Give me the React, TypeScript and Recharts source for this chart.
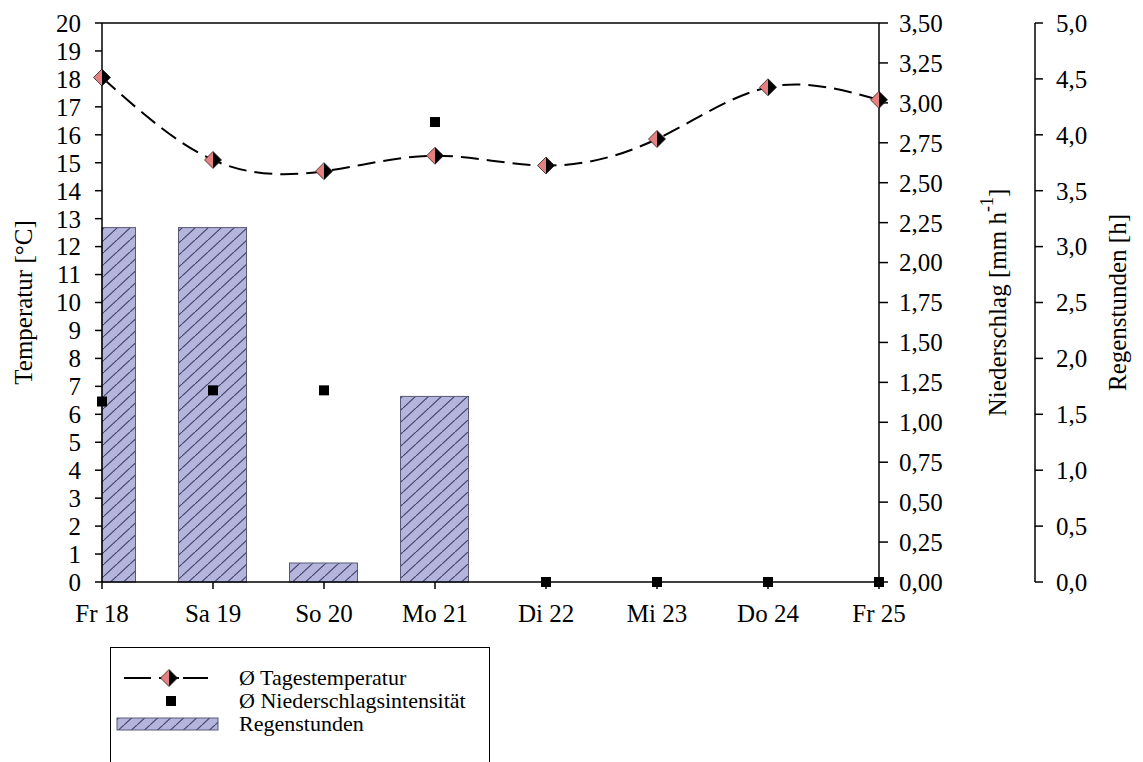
import React from "react"
import {
  ComposedChart,
  Bar,
  Line,
  Scatter,
  XAxis,
  YAxis,
  ReferenceLine,
  Legend
} from "recharts"

const days = ["Fr 18", "Sa 19", "So 20", "Mo 21", "Di 22", "Mi 23", "Do 24", "Fr 25"]
const dayTemperature = [18.05, 15.1, 14.7, 15.25, 14.9, 15.85, 17.7, 17.25]
const rainIntensity = [1.13, 1.2, 1.2, 2.88, 0, 0, 0, 0]
const rainHours = [3.17, 3.17, 0.17, 1.66, 0, 0, 0, 0]

const tempTicks = Array.from({ length: 21 }, (_, i) => i)
const rainTicks = [0, 0.25, 0.5, 0.75, 1, 1.25, 1.5, 1.75, 2, 2.25, 2.5, 2.75, 3, 3.25, 3.5]
const hourTicks = [0, 0.5, 1, 1.5, 2, 2.5, 3, 3.5, 4, 4.5, 5]
const dayTicks = days.map((_, i) => i)

const rows = days.map((day, i) => ({
  idx: i,
  day,
  temp: dayTemperature[i],
  rain: rainIntensity[i],
  hours: rainHours[i]
}))

const FONT = '"Liberation Serif", "Times New Roman", serif'
const BAR_FILL = "#b4b4dc"
const HATCH = "#45456e"
const LEFT_AXIS_W = 102 // left edge of the plot area (no left margin)
const TICK_FONT = 25

const comma = (digits: number) => (v: number) => v.toFixed(digits).replace(".", ",")

const axisLine = { stroke: "#000", strokeWidth: 1.5 }
const tickLine = { stroke: "#000", strokeWidth: 1.5 }

// tick labels drawn as plain svg text so the font size sticks
const makeTick = (format: (v: number) => string, horizontal = false) => (props: any) => {
  const { x, y, payload, textAnchor } = props
  return (
    <text
      x={x}
      y={y}
      dy={horizontal ? "0.71em" : "0.355em"}
      textAnchor={horizontal ? "middle" : textAnchor}
      fontFamily={FONT}
      fontSize={TICK_FONT}
      fill="#000"
    >
      {format(payload.value)}
    </text>
  )
}

function Diamond(props: any) {
  const { cx, cy } = props
  if (cx == null || cy == null) return null
  const r = 8.5
  return (
    <g>
      <path d={`M${cx},${cy - r}L${cx - r},${cy}L${cx},${cy + r}Z`} fill="#e58080" />
      <path d={`M${cx},${cy - r}L${cx + r},${cy}L${cx},${cy + r}Z`} fill="#000" />
      <path
        d={`M${cx},${cy - r}L${cx - r},${cy}L${cx},${cy + r}L${cx + r},${cy}Z`}
        fill="none"
        stroke="#222"
        strokeWidth={0.8}
      />
    </g>
  )
}

function Square(props: any) {
  const { cx, cy } = props
  if (cx == null || cy == null) return null
  return <rect x={cx - 5} y={cy - 5} width={10} height={10} fill="#000" />
}

// bars are centred on the day, the first one gets cut at the plot edge
function HatchedBar(props: any) {
  const { x, y, width, height } = props
  if (!height || height <= 0) return null
  const left = Math.max(x, LEFT_AXIS_W)
  const w = x + width - left
  if (w <= 0) return null
  return (
    <rect
      x={left}
      y={y}
      width={w}
      height={height}
      fill="url(#rainHatch)"
      stroke="#5a5a78"
      strokeWidth={1}
    />
  )
}

function RotatedTitle({ x, y, children }: { x: number; y: number; children: React.ReactNode }) {
  return (
    <text
      x={x}
      y={y}
      transform={`rotate(-90, ${x}, ${y})`}
      textAnchor="middle"
      dominantBaseline="central"
      fontFamily={FONT}
      fontSize={25}
      fill="#000"
    >
      {children}
    </text>
  )
}

function LegendBox() {
  const row: React.CSSProperties = {
    display: "flex",
    alignItems: "center",
    height: 23,
    lineHeight: "19px",
    fontFamily: FONT,
    fontSize: 22,
    color: "#000",
    whiteSpace: "nowrap"
  }
  const icon: React.CSSProperties = { width: 128, flex: "none", display: "block" }
  return (
    <div
      style={{
        boxSizing: "border-box",
        width: 380,
        height: 140,
        borderTop: "1.5px solid #000",
        borderLeft: "1.5px solid #000",
        borderRight: "1.5px solid #000",
        paddingTop: 18,
        background: "#fff"
      }}
    >
      <div style={row}>
        <svg style={icon} width={128} height={22}>
          <line x1={13} y1={11} x2={40} y2={11} stroke="#000" strokeWidth={2} />
          <line x1={72} y1={11} x2={97} y2={11} stroke="#000" strokeWidth={2} />
          <line x1={48} y1={11} x2={68} y2={11} stroke="#000" strokeWidth={2} />
          <Diamond cx={58} cy={11} />
        </svg>
        <span>Ø Tagestemperatur</span>
      </div>
      <div style={row}>
        <svg style={icon} width={128} height={22}>
          <Square cx={60} cy={11} />
        </svg>
        <span>Ø Niederschlagsintensität</span>
      </div>
      <div style={row}>
        <svg style={icon} width={128} height={22}>
          <rect x={6} y={5} width={101} height={12} fill="url(#rainHatch)" stroke="#5a5a78" />
        </svg>
        <span>Regenstunden</span>
      </div>
    </div>
  )
}

export default function App() {
  return (
    <div
      style={{
        position: "absolute",
        left: 0,
        top: 0,
        width: 1143,
        height: 762,
        overflow: "hidden",
        background: "#fff"
      }}
    >
      <svg width={0} height={0} style={{ position: "absolute" }}>
        <defs>
          <pattern id="rainHatch" patternUnits="userSpaceOnUse" width={13} height={12}>
            <rect width={13} height={12} fill={BAR_FILL} />
            <path d="M0,12L13,0M-13,12L0,0M13,24L26,0" stroke={HATCH} strokeWidth={1.2} />
          </pattern>
        </defs>
      </svg>
      <ComposedChart
        width={1143}
        height={762}
        data={rows}
        margin={{ top: 23, right: 0, bottom: 140, left: 0 }}
      >
        <XAxis
          dataKey="idx"
          type="number"
          domain={[0, 7]}
          ticks={dayTicks}
          interval={0}
          tickSize={7}
          tickMargin={15}
          height={40}
          axisLine={axisLine}
          tickLine={tickLine}
          tick={makeTick((i) => days[i], true)}
        />
        <YAxis
          yAxisId="t"
          orientation="left"
          width={LEFT_AXIS_W}
          domain={[0, 20]}
          ticks={tempTicks}
          interval={0}
          tickSize={7}
          tickMargin={14}
          axisLine={axisLine}
          tickLine={tickLine}
          tick={makeTick((v) => String(v))}
          label={{
            content: (p: any) => (
              <RotatedTitle x={p.viewBox.x + 23} y={p.viewBox.y + p.viewBox.height / 2}>
                Temperatur [°C]
              </RotatedTitle>
            )
          }}
        />
        <YAxis
          yAxisId="n"
          orientation="right"
          width={156}
          domain={[0, 3.5]}
          ticks={rainTicks}
          interval={0}
          tickSize={9}
          tickMargin={11}
          axisLine={axisLine}
          tickLine={tickLine}
          tick={makeTick(comma(2))}
          label={{
            content: (p: any) => (
              <RotatedTitle x={p.viewBox.x + 118} y={p.viewBox.y + p.viewBox.height / 2}>
                Niederschlag [mm h
                <tspan baselineShift="super" fontSize={18}>-1</tspan>]
              </RotatedTitle>
            )
          }}
        />
        <YAxis
          yAxisId="r"
          orientation="right"
          width={108}
          domain={[0, 5]}
          ticks={hourTicks}
          interval={0}
          tickSize={8}
          tickMargin={13}
          axisLine={axisLine}
          tickLine={tickLine}
          tick={makeTick(comma(1))}
          label={{
            content: (p: any) => (
              <RotatedTitle x={p.viewBox.x + 82} y={p.viewBox.y + p.viewBox.height / 2}>
                Regenstunden [h]
              </RotatedTitle>
            )
          }}
        />
        <ReferenceLine yAxisId="t" y={20} stroke="#000" strokeWidth={1.5} />
        <Bar
          yAxisId="r"
          dataKey="hours"
          name="Regenstunden"
          barSize={68}
          shape={HatchedBar}
          isAnimationActive={false}
        />
        <Line
          yAxisId="t"
          type="natural"
          dataKey="temp"
          name="Ø Tagestemperatur"
          stroke="#000"
          strokeWidth={2}
          strokeDasharray="18 8"
          dot={(p: any) => <Diamond key={`dot-${p.index}`} {...p} />}
          activeDot={false}
          isAnimationActive={false}
        />
        <Scatter
          yAxisId="n"
          dataKey="rain"
          name="Ø Niederschlagsintensität"
          shape={Square}
          isAnimationActive={false}
        />
        <Legend
          layout="vertical"
          align="center"
          verticalAlign="middle"
          wrapperStyle={{ left: 110, top: 647, width: 380, height: 140 }}
          content={() => <LegendBox />}
        />
      </ComposedChart>
    </div>
  )
}
